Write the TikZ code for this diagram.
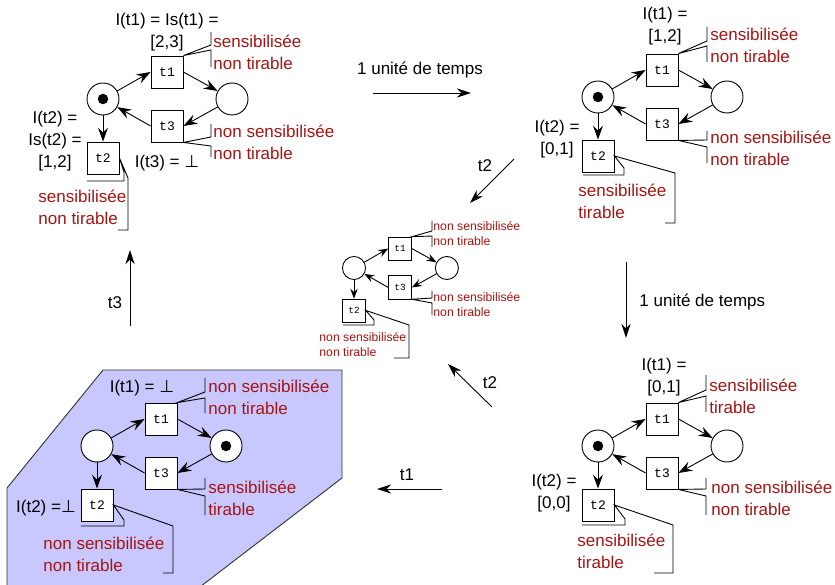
\documentclass[tikz,border=0pt]{standalone}
\usepackage{fontspec}
\setmainfont{Liberation Sans}
\newfontfamily\mono{Liberation Mono}
\newfontfamily\dejavu{DejaVu Sans}
\usetikzlibrary{arrows.meta}
\definecolor{rouge}{RGB}{165,20,20}
\definecolor{bleu}{RGB}{200,200,255}

% reseau : places p1, p2 et transitions t1, t2, t3
\newcommand{\reseau}[4]{%
  \begin{scope}[#2]
    \node[place,#3] (#1p1) at (0,0) {};
    \node[place,#4] (#1p2) at (129,0) {};
    \node[trans] (#1t1) at (64,-27) {t1};
    \node[trans] (#1t3) at (64,27) {t3};
    \node[trans] (#1t2) at (0,59) {t2};
    \draw[arc] (#1p1) -- (#1t1.west);
    \draw[arc] (#1t1.east) -- (#1p2);
    \draw[arc] (#1p2) -- (#1t3.east);
    \draw[arc] (#1t3.west) -- (#1p1);
    \draw[arc] (#1p1) -- (#1t2);
  \end{scope}}

\begin{document}
\begin{tikzpicture}[x=1pt, y=-1pt, line width=0.9pt,
    place/.style={circle, draw, fill=white, minimum size=32pt, inner sep=0pt},
    jeton/.style={label={[circle, fill, inner sep=0pt, minimum size=10.5pt]center:}},
    trans/.style={draw, fill=white, minimum size=32pt, inner sep=0pt, font=\mono\fontsize{13}{14}\selectfont},
    arc/.style={-{Stealth[length=14pt,width=10pt,inset=5pt]}},
    fleche/.style={-{Stealth[length=14pt,width=9pt,inset=4.5pt]}},
    txt/.style={inner sep=0pt, align=center, font=\fontsize{17}{22}\selectfont},
    etat/.style={txt, text=rouge, align=left, anchor=west},
    petit/.style={font=\fontsize{12.2}{15}\selectfont}]
  \useasboundingbox (0,0) rectangle (835,585);

  % zone bleue
  \draw[fill=bleu, draw=black!80] (7,590) -- (7,488) -- (103,370) -- (342,370) -- (342,478) -- (196,590);

  % etat initial
  \reseau{s1}{shift={(103,99)}}{jeton}{}
  \node[txt] (s1i1) at (167,32) {I(t1) = Is(t1) =\\{}[2,3]};
  \node[etat] (s1e1) at (213,52) {sensibilisée\\non tirable};
  \draw (211,32) -- (211,45) -- (s1t1.north east) -- (211,50) -- (211,67);
  \node[etat] (s1e3) at (213,142) {non sensibilisée\\non tirable};
  \draw (211,124) -- (211,137) -- (s1t3.south east) -- (211,146) -- (211,157);
  \node[txt] (s1i3) at (167,163) {I(t3) = {\dejavu ⊥}};
  \node[txt] (s1i2) at (55,141) {I(t2) =\\Is(t2) =\\{}[1,2]};
  \node[etat] (s1e2) at (38,207) {sensibilisée\\non tirable};
  \draw (87,181) -- (124,181) -- (124,172) -- (s1t2.east) -- (128,178) -- (128,230) -- (118,230);

  % apres 1 unite de temps
  \reseau{s2}{shift={(598,97)}}{jeton}{}
  \node[txt] (s2i1) at (665,26) {I(t1) =\\{}[1,2]};
  \node[etat] (s2e1) at (710,45) {sensibilisée\\non tirable};
  \draw (707,27) -- (707,41) -- (s2t1.north east) -- (707,46) -- (707,62);
  \node[etat] (s2e3) at (710,148) {non sensibilisée\\non tirable};
  \draw (707,131) -- (707,140) -- (s2t3.south east) -- (707,147) -- (707,163);
  \node[txt] (s2i2) at (557,139) {I(t2) =\\{}[0,1]};
  \node[etat] (s2e2) at (578,201) {sensibilisée\\tirable};
  \draw (583,175) -- (624,175) -- (624,168) -- (s2t2.east) -- (675,173) -- (675,223) -- (665,223);

  % apres 2 unites de temps
  \reseau{s4}{shift={(598,446)}}{jeton}{}
  \node[txt] (s4i1) at (664,377) {I(t1) =\\{}[0,1]};
  \node[etat] (s4e1) at (709,396) {sensibilisée\\tirable};
  \draw (706,375) -- (706,390) -- (s4t1.north east) -- (706,396) -- (706,412);
  \node[etat] (s4e3) at (711,498) {non sensibilisée\\non tirable};
  \draw (706,478) -- (706,489) -- (s4t3.south east) -- (706,496) -- (706,515);
  \node[txt] (s4i2) at (554,493) {I(t2) =\\{}[0,0]};
  \node[etat] (s4e2) at (577,551) {sensibilisée\\tirable};
  \draw (582,525) -- (625,525) -- (625,519) -- (s4t2.east) -- (673,525) -- (673,573) -- (654,573);

  % apres tir de t1
  \reseau{s5}{shift={(97,446)}}{}{jeton}
  \node[txt] (s5i1) at (142,388) {I(t1) = {\dejavu ⊥}};
  \node[etat] (s5e1) at (208,397) {non sensibilisée\\non tirable};
  \draw (205,378) -- (205,392) -- (s5t1.north east) -- (205,398) -- (205,413);
  \node[etat] (s5e3) at (208,498) {sensibilisée\\tirable};
  \draw (205,478) -- (205,489) -- (s5t3.south east) -- (205,496) -- (205,515);
  \node[txt] (s5i2) at (46,508) {I(t2) ={\dejavu ⊥}};
  \node[etat] (s5e2) at (43,554) {non sensibilisée\\non tirable};
  \draw (81,526) -- (124,526) -- (124,520) -- (s5t2.east) -- (173,526) -- (173,573) -- (163,573);

  % apres tir de t2 (petit)
  \reseau{s3}{shift={(354,268)}, scale=0.72, transform shape,
    arc/.style={-{Stealth[length=10pt,width=7.5pt,inset=3.5pt]}}}{}{}
  \node[etat, petit] (s3e1) at (433,234) {non sensibilisée\\non tirable};
  \draw (432,221) -- (432,231) -- (s3t1.north east) -- (432,236) -- (432,247);
  \node[etat, petit] (s3e3) at (433,305) {non sensibilisée\\non tirable};
  \draw (432,291) -- (432,298) -- (s3t3.south east) -- (432,303) -- (432,315);
  \node[etat, petit] (s3e2) at (319,345) {non sensibilisée\\non tirable};
  \draw (343,325) -- (374,325) -- (374,320) -- (s3t2.east) -- (409,325) -- (409,358) -- (394,358);

  % passages d'un etat a l'autre
  \coordinate (d12) at (373,93);
  \coordinate (f12) at (471,93);
  \draw[fleche] (d12) -- (f12);
  \node[txt] (l12) at (420,70) {1 unité de temps};

  \coordinate (d23) at (514,159);
  \coordinate (f23) at (470,203);
  \draw[fleche] (d23) -- (f23);
  \node[txt] (l23) at (485,166) {t2};

  \coordinate (d24) at (626,262);
  \coordinate (f24) at (626,338);
  \draw[fleche] (d24) -- (f24);
  \node[txt, anchor=west] (l24) at (639,302) {1 unité de temps};

  \coordinate (d43) at (492,407);
  \coordinate (f43) at (448,364);
  \draw[fleche] (d43) -- (f43);
  \node[txt] (l43) at (490,383) {t2};

  \coordinate (d45) at (442,489);
  \coordinate (f45) at (377,489);
  \draw[fleche] (d45) -- (f45);
  \node[txt] (l45) at (407,475) {t1};

  \coordinate (d51) at (130,326);
  \coordinate (f51) at (130,250);
  \draw[fleche] (d51) -- (f51);
  \node[txt] (l51) at (115,303) {t3};
\end{tikzpicture}
\end{document}
